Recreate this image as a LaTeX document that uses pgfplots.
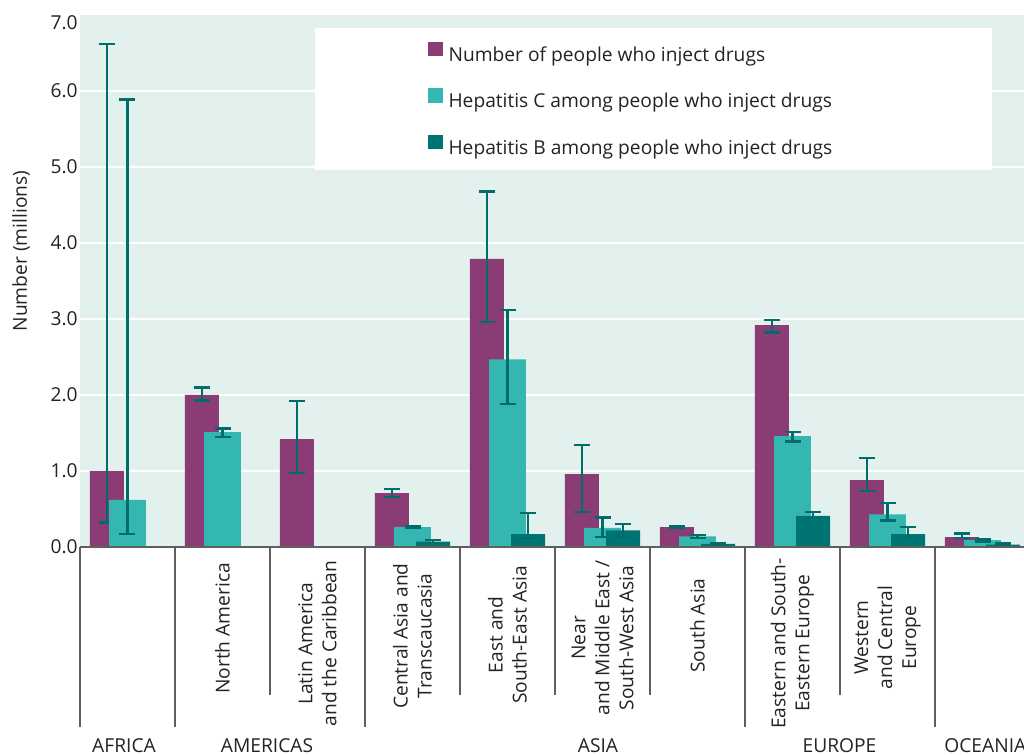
\documentclass[border=0pt]{standalone}
\usepackage{fontspec}
\setmainfont{Open Sans}
\usepackage{pgfplots}
\pgfplotsset{compat=1.18}
\usepackage{pgfplotstable}
\definecolor{pwid}{RGB}{139,60,116}
\definecolor{hcv}{RGB}{52,183,177}
\definecolor{hbv}{RGB}{0,115,115}
\definecolor{errc}{RGB}{0,108,108}
\definecolor{bgc}{RGB}{226,241,237}
\definecolor{sepc}{RGB}{95,95,95}
\definecolor{txt}{RGB}{35,35,35}

% x = group index + offset; ep/em = distance to upper/lower end of the range
\pgfplotstableread{
x y ep em
0.284 1.00 5.62 0.68
1.284 2.00 0.10 0.07
2.284 1.42 0.50 0.45
3.284 0.71 0.05 0.05
4.284 3.79 0.89 0.83
5.284 0.96 0.38 0.50
6.284 0.26 0.02 0.01
7.284 2.92 0.07 0.10
8.284 0.88 0.29 0.14
9.284 0.13 0.045 0.01
}\pwidtab
\pgfplotstableread{
x y ep em
0.5 0.62 5.27 0.45
1.5 1.51 0.05 0.06
3.5 0.26 0.01 0.01
4.5 2.47 0.65 0.59
5.5 0.25 0.14 0.12
6.5 0.14 0.02 0.02
7.5 1.46 0.05 0.07
8.5 0.43 0.15 0.08
9.5 0.09 0.01 0.025
}\hcvtab
\pgfplotstableread{
x y ep em
3.716 0.07 0.02 0.02
4.716 0.17 0.28 0.05
5.716 0.22 0.08 0.08
6.716 0.04 0.01 0.01
7.716 0.41 0.05 0.03
8.716 0.17 0.09 0.05
9.716 0.03 0.02 0.01
}\hbvtab

\newcommand{\f}{\fontsize{9.6}{12}\selectfont}

\begin{document}
\begin{tikzpicture}
\begin{axis}[
  scale only axis, width=472pt, height=266pt,
  xmin=0, xmax=9.9368, ymin=0, ymax=7,
  axis background/.style={fill=bgc},
  axis x line*=bottom, axis y line*=left,
  x axis line style={draw=none},
  y axis line style={draw=none},
  xtick=\empty,
  ytick={0,1,2,3,4,5,6},
  yticklabels={0.0,1.0,2.0,3.0,4.0,5.0,6.0},
  extra y ticks={7}, extra y tick labels={7.0},
  extra y tick style={grid=none, yticklabel style={yshift=-4pt}},
  ymajorgrids, major grid style={white, line width=1pt},
  major tick length=0pt,
  yticklabel style={anchor=east, inner sep=0pt, xshift=-1pt, font=\f, text=txt},
  legend style={at={(axis description cs:0.3686,0.9492)}, anchor=north west,
    draw=none, fill=none, inner sep=0pt, outer sep=0pt, row sep=11pt,
    font=\f, text=txt,
    nodes={inner sep=0pt, text height=7.5pt, text depth=2.5pt},
    /tikz/every odd column/.append style={column sep=2.8pt}},
  legend cell align=left,
  legend image code/.code={\fill[#1] (0pt,0pt) rectangle (7.5pt,7.2pt);},
  error bars/y dir=both, error bars/y explicit,
  error bars/error bar style={line width=1.2pt, draw=errc},
  error bars/error mark options={rotate=90, mark size=4pt, line width=1.2pt, draw=errc},
]
\fill[white] (axis cs:2.474,4.961) rectangle (axis cs:9.6,6.829);
\addplot[ybar, bar shift=0pt, bar width=0.358, fill=pwid, draw=none]
  table[x=x, y=y, y error plus=ep, y error minus=em] {\pwidtab};
\addlegendentry{Number of people who inject drugs}
\addplot[ybar, bar shift=0pt, bar width=0.389, fill=hcv, draw=none]
  table[x=x, y=y, y error plus=ep, y error minus=em] {\hcvtab};
\addlegendentry{Hepatitis C among people who inject drugs}
\addplot[ybar, bar shift=0pt, bar width=0.358, fill=hbv, draw=none]
  table[x=x, y=y, y error plus=ep, y error minus=em] {\hbvtab};
\addlegendentry{Hepatitis B among people who inject drugs}
\end{axis}
% baseline and group separators
\draw[sepc, line width=1pt] (0,0) -- (472pt,0);
\foreach \X in {0,47.5,142.5,332.5,427.5}{\draw[sepc, line width=0.9pt] (\X pt,0) -- (\X pt,-90pt);}
\foreach \X in {95,190,237.5,285,380}{\draw[sepc, line width=0.9pt] (\X pt,0) -- (\X pt,-74pt);}
% category labels
\begin{scope}[every node/.style={rotate=90, align=center, anchor=center, font=\f, text=txt, inner sep=0pt}]
\node at (71.25pt,-40.75pt) {North America};
\node at (118.75pt,-48.25pt) {Latin America\\and the Caribbean};
\node at (166.25pt,-44.5pt) {Central Asia and\\Transcaucasia};
\node at (213.75pt,-44pt) {East and\\South-East Asia};
\node at (261.25pt,-45.5pt) {Near\\and Middle East /\\South-West Asia};
\node at (308.75pt,-39.25pt) {South Asia};
\node at (356.25pt,-48.25pt) {Eastern and South-\\Eastern Europe};
\node at (403.75pt,-45.25pt) {Western\\and Central\\Europe};
\end{scope}
% region labels
\begin{scope}[every node/.style={anchor=base, font=\f, text=txt, inner sep=0pt}]
\node at (22pt,-103pt) {AFRICA};
\node at (93.5pt,-103pt) {AMERICAS};
\node at (259pt,-103pt) {ASIA};
\node at (379.75pt,-103pt) {EUROPE};
\node[anchor=base west] at (432pt,-103pt) {OCEANIA};
\end{scope}
% y label
\node[rotate=90, font=\f, text=txt, inner sep=0pt] at (-29.5pt,148pt) {Number (millions)};
\pgfresetboundingbox
\useasboundingbox (-40pt,-104pt) rectangle (472pt,273.5pt);
\end{tikzpicture}
\end{document}
